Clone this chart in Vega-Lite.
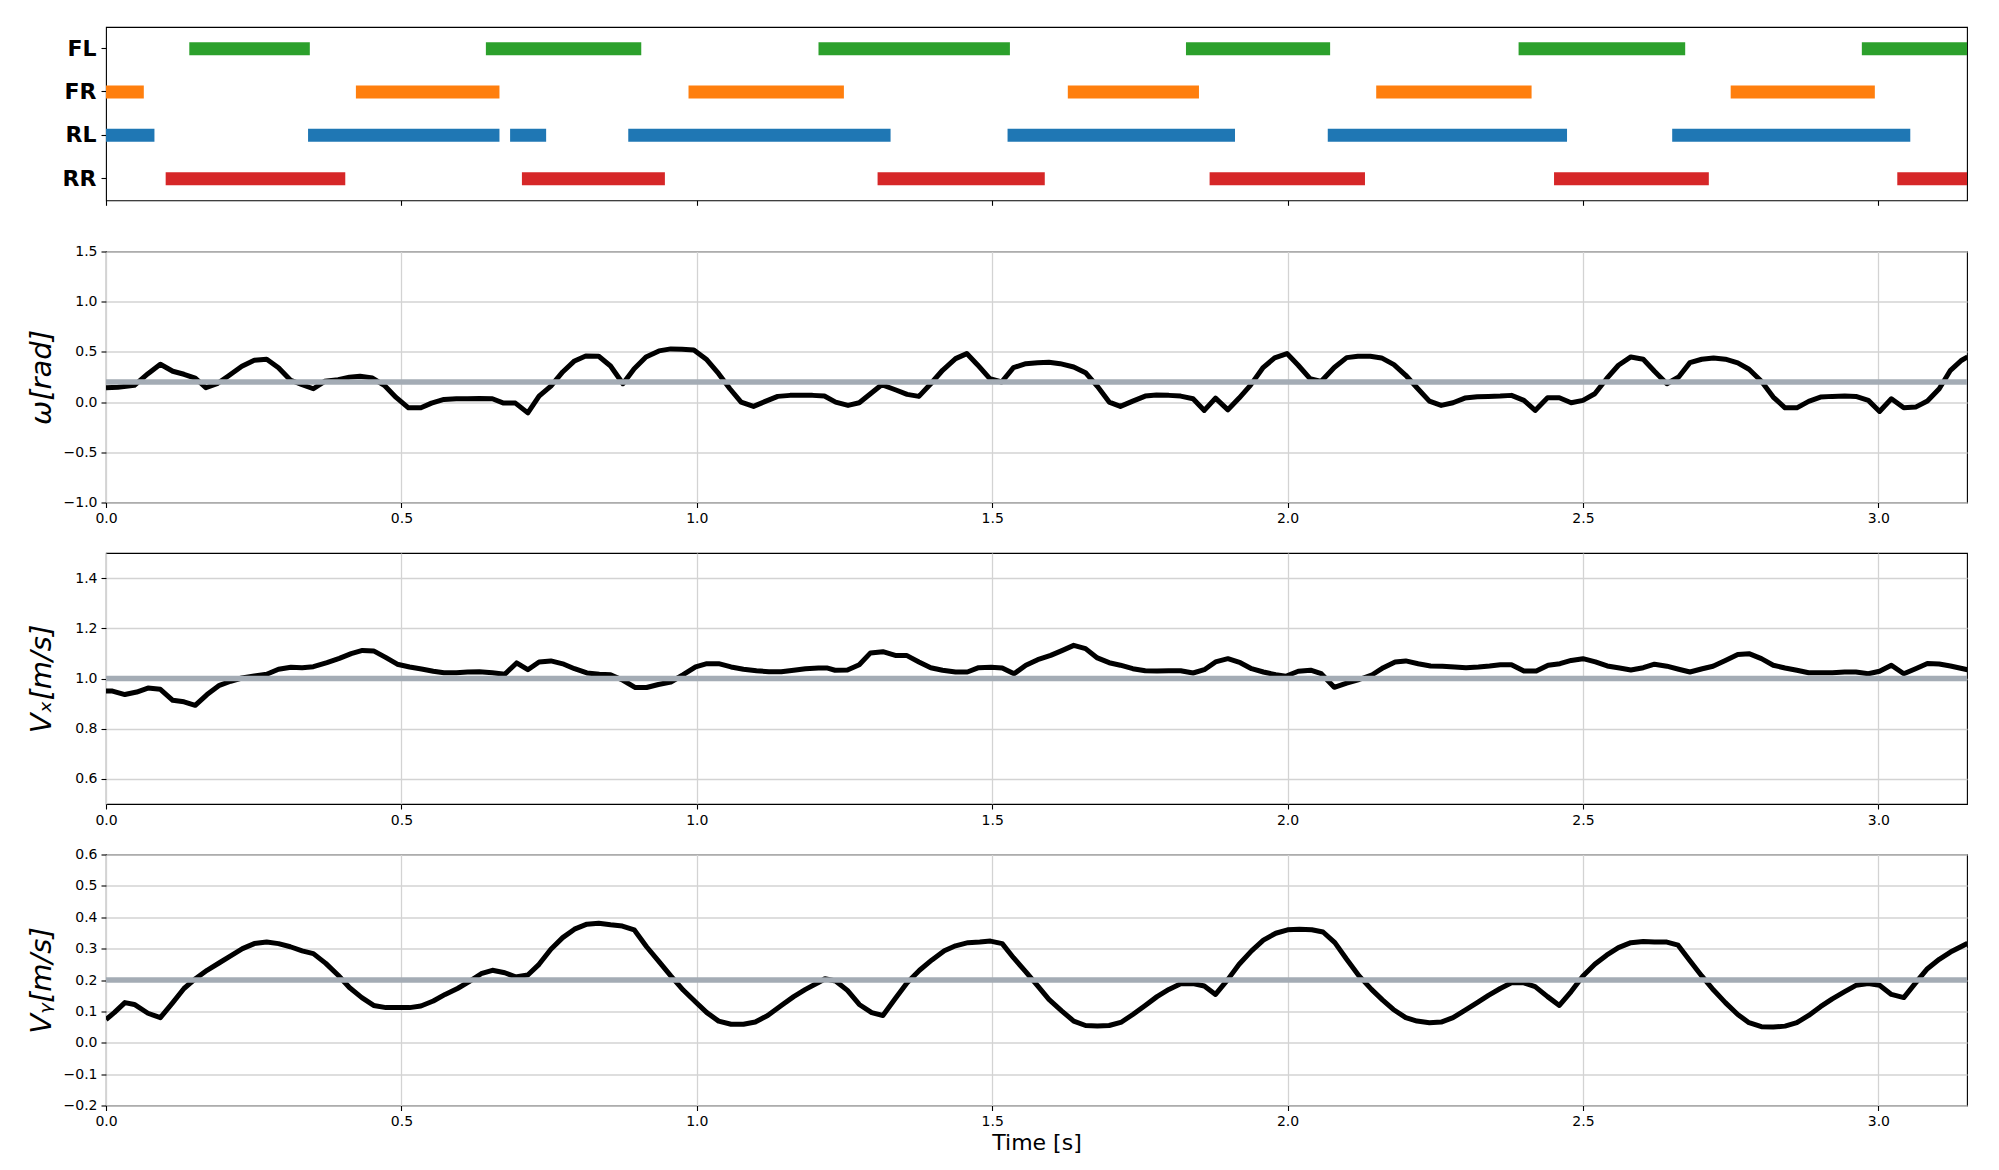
{
"$schema": "https://vega.github.io/schema/vega-lite/v6.json",
"background": "white",
"padding": {"left": 26, "top": 26, "right": 10, "bottom": 10},
"spacing": 50.5,
"bounds": "flush",
"config": {
  "view": {"stroke": "black", "strokeWidth": 1.1},
  "axis": {"domain": false, "tickColor": "black", "tickSize": 5, "tickWidth": 1.1, "labelFont": "DejaVu Sans", "labelFontSize": 14, "labelColor": "black", "titleFont": "DejaVu Sans", "titleColor": "black", "titleFontWeight": "normal", "gridColor": "#d3d3d3", "gridWidth": 1.3, "labelPadding": 4, "labelFlush": false, "labelOverlap": false}
},
"datasets": {
"gait": [
{"leg":"FL","start":0.141,"end":0.345},{"leg":"FL","start":0.643,"end":0.906},{"leg":"FL","start":1.206,"end":1.530},{"leg":"FL","start":1.828,"end":2.072},{"leg":"FL","start":2.391,"end":2.673},{"leg":"FL","start":2.972,"end":3.15},
{"leg":"FR","start":0.0,"end":0.064},{"leg":"FR","start":0.423,"end":0.666},{"leg":"FR","start":0.986,"end":1.249},{"leg":"FR","start":1.628,"end":1.850},{"leg":"FR","start":2.150,"end":2.413},{"leg":"FR","start":2.750,"end":2.994},
{"leg":"RL","start":0.0,"end":0.082},{"leg":"RL","start":0.342,"end":0.666},{"leg":"RL","start":0.684,"end":0.745},{"leg":"RL","start":0.884,"end":1.328},{"leg":"RL","start":1.526,"end":1.911},{"leg":"RL","start":2.068,"end":2.473},{"leg":"RL","start":2.651,"end":3.054},
{"leg":"RR","start":0.101,"end":0.405},{"leg":"RR","start":0.704,"end":0.946},{"leg":"RR","start":1.306,"end":1.589},{"leg":"RR","start":1.868,"end":2.131},{"leg":"RR","start":2.451,"end":2.713},{"leg":"RR","start":3.032,"end":3.15}
],
"omegaRef": [{"t":0,"v":0.2},{"t":3.15,"v":0.2}],
"vxRef": [{"t":0,"v":1.0},{"t":3.15,"v":1.0}],
"vyRef": [{"t":0,"v":0.2},{"t":3.15,"v":0.2}],
"omega": [
{"t":0.000,"v":0.143},{"t":0.020,"v":0.147},{"t":0.048,"v":0.167},{"t":0.071,"v":0.283},{"t":0.092,"v":0.377},{"t":0.113,"v":0.307},{"t":0.132,"v":0.277},{"t":0.151,"v":0.240},{"t":0.169,"v":0.143},{"t":0.188,"v":0.183},{"t":0.207,"v":0.260},{"t":0.230,"v":0.357},{"t":0.251,"v":0.417},{"t":0.272,"v":0.427},{"t":0.292,"v":0.343},{"t":0.312,"v":0.220},{"t":0.332,"v":0.173},{"t":0.351,"v":0.133},{"t":0.370,"v":0.207},{"t":0.393,"v":0.223},{"t":0.412,"v":0.247},{"t":0.430,"v":0.257},{"t":0.451,"v":0.240},{"t":0.471,"v":0.167},{"t":0.491,"v":0.047},{"t":0.512,"v":-0.057},{"t":0.533,"v":-0.057},{"t":0.551,"v":-0.010},{"t":0.572,"v":0.027},{"t":0.593,"v":0.033},{"t":0.612,"v":0.033},{"t":0.632,"v":0.037},{"t":0.654,"v":0.033},{"t":0.673,"v":-0.010},{"t":0.693,"v":-0.010},{"t":0.714,"v":-0.107},{"t":0.733,"v":0.060},{"t":0.753,"v":0.160},{"t":0.773,"v":0.300},{"t":0.793,"v":0.410},{"t":0.812,"v":0.460},{"t":0.834,"v":0.457},{"t":0.854,"v":0.360},{"t":0.875,"v":0.183},{"t":0.894,"v":0.333},{"t":0.914,"v":0.450},{"t":0.936,"v":0.510},{"t":0.956,"v":0.530},{"t":0.975,"v":0.527},{"t":0.995,"v":0.520},{"t":1.016,"v":0.427},{"t":1.037,"v":0.283},{"t":1.056,"v":0.133},{"t":1.075,"v":0.000},{"t":1.096,"v":-0.043},{"t":1.116,"v":0.007},{"t":1.137,"v":0.057},{"t":1.158,"v":0.067},{"t":1.177,"v":0.067},{"t":1.196,"v":0.067},{"t":1.216,"v":0.060},{"t":1.235,"v":0.000},{"t":1.256,"v":-0.033},{"t":1.275,"v":-0.007},{"t":1.294,"v":0.083},{"t":1.313,"v":0.173},{"t":1.336,"v":0.123},{"t":1.356,"v":0.077},{"t":1.376,"v":0.057},{"t":1.396,"v":0.183},{"t":1.416,"v":0.317},{"t":1.438,"v":0.433},{"t":1.457,"v":0.483},{"t":1.475,"v":0.373},{"t":1.496,"v":0.233},{"t":1.516,"v":0.200},{"t":1.536,"v":0.343},{"t":1.557,"v":0.383},{"t":1.577,"v":0.393},{"t":1.596,"v":0.397},{"t":1.615,"v":0.383},{"t":1.638,"v":0.350},{"t":1.658,"v":0.293},{"t":1.678,"v":0.157},{"t":1.698,"v":0.000},{"t":1.717,"v":-0.043},{"t":1.738,"v":0.010},{"t":1.759,"v":0.060},{"t":1.778,"v":0.070},{"t":1.799,"v":0.067},{"t":1.819,"v":0.060},{"t":1.840,"v":0.033},{"t":1.859,"v":-0.083},{"t":1.878,"v":0.040},{"t":1.899,"v":-0.077},{"t":1.918,"v":0.040},{"t":1.937,"v":0.167},{"t":1.958,"v":0.340},{"t":1.978,"v":0.440},{"t":1.999,"v":0.483},{"t":2.018,"v":0.367},{"t":2.038,"v":0.233},{"t":2.057,"v":0.207},{"t":2.079,"v":0.345},{"t":2.100,"v":0.443},{"t":2.119,"v":0.457},{"t":2.140,"v":0.457},{"t":2.159,"v":0.440},{"t":2.180,"v":0.373},{"t":2.200,"v":0.267},{"t":2.219,"v":0.143},{"t":2.240,"v":0.010},{"t":2.260,"v":-0.033},{"t":2.280,"v":-0.007},{"t":2.300,"v":0.040},{"t":2.321,"v":0.053},{"t":2.340,"v":0.057},{"t":2.360,"v":0.060},{"t":2.379,"v":0.067},{"t":2.400,"v":0.017},{"t":2.419,"v":-0.083},{"t":2.440,"v":0.043},{"t":2.460,"v":0.043},{"t":2.480,"v":-0.007},{"t":2.500,"v":0.017},{"t":2.520,"v":0.083},{"t":2.540,"v":0.233},{"t":2.560,"v":0.367},{"t":2.581,"v":0.450},{"t":2.602,"v":0.427},{"t":2.621,"v":0.307},{"t":2.642,"v":0.183},{"t":2.662,"v":0.250},{"t":2.681,"v":0.393},{"t":2.701,"v":0.427},{"t":2.721,"v":0.440},{"t":2.741,"v":0.427},{"t":2.762,"v":0.390},{"t":2.781,"v":0.327},{"t":2.802,"v":0.207},{"t":2.822,"v":0.050},{"t":2.842,"v":-0.057},{"t":2.862,"v":-0.057},{"t":2.882,"v":0.007},{"t":2.902,"v":0.050},{"t":2.922,"v":0.057},{"t":2.943,"v":0.060},{"t":2.962,"v":0.057},{"t":2.983,"v":0.017},{"t":3.002,"v":-0.093},{"t":3.022,"v":0.033},{"t":3.043,"v":-0.057},{"t":3.063,"v":-0.050},{"t":3.083,"v":0.010},{"t":3.103,"v":0.133},{"t":3.122,"v":0.317},{"t":3.141,"v":0.417},{"t":3.151,"v":0.450}
],
"vx": [
{"t":0.000,"v":0.950},{"t":0.011,"v":0.950},{"t":0.032,"v":0.936},{"t":0.052,"v":0.946},{"t":0.071,"v":0.962},{"t":0.092,"v":0.957},{"t":0.113,"v":0.913},{"t":0.132,"v":0.907},{"t":0.151,"v":0.893},{"t":0.171,"v":0.936},{"t":0.192,"v":0.973},{"t":0.211,"v":0.989},{"t":0.230,"v":1.002},{"t":0.251,"v":1.010},{"t":0.272,"v":1.017},{"t":0.292,"v":1.037},{"t":0.313,"v":1.045},{"t":0.332,"v":1.043},{"t":0.351,"v":1.047},{"t":0.374,"v":1.063},{"t":0.395,"v":1.080},{"t":0.415,"v":1.099},{"t":0.434,"v":1.112},{"t":0.453,"v":1.110},{"t":0.474,"v":1.083},{"t":0.493,"v":1.057},{"t":0.514,"v":1.046},{"t":0.534,"v":1.038},{"t":0.554,"v":1.029},{"t":0.572,"v":1.023},{"t":0.593,"v":1.023},{"t":0.612,"v":1.026},{"t":0.632,"v":1.027},{"t":0.654,"v":1.023},{"t":0.675,"v":1.017},{"t":0.695,"v":1.062},{"t":0.714,"v":1.035},{"t":0.733,"v":1.066},{"t":0.753,"v":1.070},{"t":0.775,"v":1.057},{"t":0.793,"v":1.039},{"t":0.814,"v":1.022},{"t":0.835,"v":1.017},{"t":0.854,"v":1.015},{"t":0.875,"v":0.993},{"t":0.896,"v":0.964},{"t":0.915,"v":0.964},{"t":0.935,"v":0.976},{"t":0.956,"v":0.986},{"t":0.977,"v":1.015},{"t":0.998,"v":1.046},{"t":1.017,"v":1.059},{"t":1.037,"v":1.059},{"t":1.058,"v":1.046},{"t":1.079,"v":1.037},{"t":1.101,"v":1.031},{"t":1.122,"v":1.027},{"t":1.143,"v":1.027},{"t":1.164,"v":1.033},{"t":1.184,"v":1.039},{"t":1.206,"v":1.042},{"t":1.220,"v":1.042},{"t":1.234,"v":1.033},{"t":1.255,"v":1.034},{"t":1.275,"v":1.055},{"t":1.294,"v":1.102},{"t":1.315,"v":1.107},{"t":1.336,"v":1.092},{"t":1.355,"v":1.092},{"t":1.376,"v":1.066},{"t":1.396,"v":1.043},{"t":1.416,"v":1.033},{"t":1.438,"v":1.026},{"t":1.458,"v":1.026},{"t":1.477,"v":1.043},{"t":1.498,"v":1.045},{"t":1.517,"v":1.042},{"t":1.537,"v":1.019},{"t":1.557,"v":1.053},{"t":1.577,"v":1.075},{"t":1.599,"v":1.092},{"t":1.618,"v":1.111},{"t":1.638,"v":1.132},{"t":1.658,"v":1.119},{"t":1.678,"v":1.082},{"t":1.698,"v":1.063},{"t":1.717,"v":1.053},{"t":1.738,"v":1.039},{"t":1.759,"v":1.031},{"t":1.779,"v":1.030},{"t":1.799,"v":1.031},{"t":1.819,"v":1.031},{"t":1.840,"v":1.022},{"t":1.859,"v":1.035},{"t":1.878,"v":1.066},{"t":1.899,"v":1.079},{"t":1.920,"v":1.063},{"t":1.939,"v":1.039},{"t":1.959,"v":1.026},{"t":1.980,"v":1.015},{"t":1.997,"v":1.009},{"t":2.018,"v":1.029},{"t":2.039,"v":1.033},{"t":2.057,"v":1.019},{"t":2.079,"v":0.965},{"t":2.100,"v":0.982},{"t":2.121,"v":0.996},{"t":2.142,"v":1.013},{"t":2.162,"v":1.043},{"t":2.182,"v":1.066},{"t":2.200,"v":1.070},{"t":2.221,"v":1.059},{"t":2.242,"v":1.050},{"t":2.262,"v":1.049},{"t":2.283,"v":1.046},{"t":2.302,"v":1.043},{"t":2.323,"v":1.046},{"t":2.342,"v":1.050},{"t":2.360,"v":1.055},{"t":2.379,"v":1.055},{"t":2.400,"v":1.030},{"t":2.421,"v":1.030},{"t":2.441,"v":1.053},{"t":2.461,"v":1.059},{"t":2.480,"v":1.072},{"t":2.500,"v":1.079},{"t":2.521,"v":1.066},{"t":2.541,"v":1.050},{"t":2.562,"v":1.042},{"t":2.581,"v":1.034},{"t":2.602,"v":1.043},{"t":2.621,"v":1.057},{"t":2.642,"v":1.049},{"t":2.662,"v":1.037},{"t":2.681,"v":1.026},{"t":2.702,"v":1.039},{"t":2.720,"v":1.049},{"t":2.741,"v":1.072},{"t":2.762,"v":1.096},{"t":2.781,"v":1.099},{"t":2.802,"v":1.079},{"t":2.822,"v":1.053},{"t":2.842,"v":1.042},{"t":2.862,"v":1.033},{"t":2.882,"v":1.023},{"t":2.902,"v":1.023},{"t":2.922,"v":1.023},{"t":2.943,"v":1.026},{"t":2.962,"v":1.026},{"t":2.983,"v":1.019},{"t":3.002,"v":1.029},{"t":3.022,"v":1.053},{"t":3.043,"v":1.019},{"t":3.063,"v":1.039},{"t":3.083,"v":1.060},{"t":3.103,"v":1.058},{"t":3.122,"v":1.050},{"t":3.151,"v":1.035}
],
"vy": [
{"t":0.000,"v":0.074},{"t":0.014,"v":0.096},{"t":0.032,"v":0.128},{"t":0.048,"v":0.122},{"t":0.071,"v":0.094},{"t":0.092,"v":0.080},{"t":0.113,"v":0.128},{"t":0.132,"v":0.173},{"t":0.152,"v":0.205},{"t":0.171,"v":0.231},{"t":0.192,"v":0.255},{"t":0.211,"v":0.277},{"t":0.231,"v":0.300},{"t":0.251,"v":0.316},{"t":0.272,"v":0.321},{"t":0.292,"v":0.316},{"t":0.312,"v":0.306},{"t":0.332,"v":0.293},{"t":0.351,"v":0.284},{"t":0.372,"v":0.253},{"t":0.393,"v":0.215},{"t":0.412,"v":0.176},{"t":0.433,"v":0.144},{"t":0.453,"v":0.119},{"t":0.474,"v":0.112},{"t":0.493,"v":0.112},{"t":0.514,"v":0.112},{"t":0.533,"v":0.117},{"t":0.554,"v":0.133},{"t":0.574,"v":0.154},{"t":0.595,"v":0.173},{"t":0.614,"v":0.194},{"t":0.635,"v":0.220},{"t":0.654,"v":0.231},{"t":0.675,"v":0.223},{"t":0.693,"v":0.210},{"t":0.714,"v":0.216},{"t":0.733,"v":0.250},{"t":0.753,"v":0.298},{"t":0.773,"v":0.335},{"t":0.793,"v":0.362},{"t":0.814,"v":0.378},{"t":0.834,"v":0.381},{"t":0.854,"v":0.376},{"t":0.874,"v":0.372},{"t":0.894,"v":0.360},{"t":0.915,"v":0.306},{"t":0.935,"v":0.261},{"t":0.956,"v":0.213},{"t":0.977,"v":0.168},{"t":0.998,"v":0.130},{"t":1.017,"v":0.096},{"t":1.037,"v":0.069},{"t":1.058,"v":0.059},{"t":1.079,"v":0.059},{"t":1.099,"v":0.066},{"t":1.120,"v":0.087},{"t":1.143,"v":0.119},{"t":1.164,"v":0.147},{"t":1.184,"v":0.170},{"t":1.205,"v":0.191},{"t":1.217,"v":0.204},{"t":1.235,"v":0.197},{"t":1.255,"v":0.167},{"t":1.275,"v":0.122},{"t":1.296,"v":0.096},{"t":1.315,"v":0.087},{"t":1.336,"v":0.141},{"t":1.356,"v":0.191},{"t":1.377,"v":0.231},{"t":1.398,"v":0.264},{"t":1.419,"v":0.293},{"t":1.438,"v":0.309},{"t":1.459,"v":0.319},{"t":1.479,"v":0.321},{"t":1.497,"v":0.324},{"t":1.517,"v":0.316},{"t":1.536,"v":0.271},{"t":1.557,"v":0.226},{"t":1.577,"v":0.181},{"t":1.596,"v":0.138},{"t":1.618,"v":0.101},{"t":1.638,"v":0.069},{"t":1.658,"v":0.055},{"t":1.678,"v":0.053},{"t":1.698,"v":0.055},{"t":1.719,"v":0.066},{"t":1.738,"v":0.090},{"t":1.759,"v":0.119},{"t":1.779,"v":0.147},{"t":1.799,"v":0.170},{"t":1.819,"v":0.188},{"t":1.840,"v":0.189},{"t":1.859,"v":0.181},{"t":1.878,"v":0.154},{"t":1.899,"v":0.202},{"t":1.918,"v":0.250},{"t":1.939,"v":0.293},{"t":1.959,"v":0.327},{"t":1.980,"v":0.349},{"t":2.000,"v":0.360},{"t":2.020,"v":0.362},{"t":2.041,"v":0.360},{"t":2.060,"v":0.353},{"t":2.080,"v":0.319},{"t":2.100,"v":0.266},{"t":2.121,"v":0.213},{"t":2.142,"v":0.170},{"t":2.161,"v":0.136},{"t":2.179,"v":0.106},{"t":2.200,"v":0.080},{"t":2.219,"v":0.069},{"t":2.240,"v":0.064},{"t":2.260,"v":0.066},{"t":2.280,"v":0.080},{"t":2.300,"v":0.103},{"t":2.321,"v":0.128},{"t":2.340,"v":0.151},{"t":2.360,"v":0.173},{"t":2.379,"v":0.191},{"t":2.400,"v":0.191},{"t":2.419,"v":0.179},{"t":2.440,"v":0.147},{"t":2.460,"v":0.119},{"t":2.480,"v":0.163},{"t":2.500,"v":0.213},{"t":2.520,"v":0.250},{"t":2.540,"v":0.279},{"t":2.560,"v":0.303},{"t":2.581,"v":0.319},{"t":2.602,"v":0.323},{"t":2.621,"v":0.321},{"t":2.642,"v":0.321},{"t":2.661,"v":0.311},{"t":2.681,"v":0.261},{"t":2.701,"v":0.213},{"t":2.721,"v":0.168},{"t":2.741,"v":0.128},{"t":2.762,"v":0.090},{"t":2.781,"v":0.064},{"t":2.802,"v":0.051},{"t":2.822,"v":0.050},{"t":2.842,"v":0.053},{"t":2.862,"v":0.064},{"t":2.882,"v":0.087},{"t":2.902,"v":0.115},{"t":2.922,"v":0.140},{"t":2.943,"v":0.163},{"t":2.962,"v":0.183},{"t":2.983,"v":0.189},{"t":3.002,"v":0.183},{"t":3.022,"v":0.154},{"t":3.043,"v":0.144},{"t":3.063,"v":0.191},{"t":3.083,"v":0.236},{"t":3.103,"v":0.266},{"t":3.122,"v":0.289},{"t":3.151,"v":0.317}
]
},
"vconcat": [
{
  "width": 1861, "height": 173.3,
  "data": {"name": "gait"},
  "mark": {"type": "bar", "clip": true},
  "encoding": {
    "x": {"field": "start", "type": "quantitative", "scale": {"domain": [0, 3.15], "nice": false, "zero": false}, "axis": {"values": [0, 0.5, 1, 1.5, 2, 2.5, 3], "labels": false, "grid": false, "title": null}},
    "x2": {"field": "end"},
    "y": {"field": "leg", "type": "nominal", "sort": ["FL", "FR", "RL", "RR"], "scale": {"paddingInner": 0.7, "paddingOuter": 0.35}, "axis": {"title": null, "labelFontSize": 22, "labelFontWeight": "bold", "grid": false, "labelPadding": 5}},
    "color": {"field": "leg", "type": "nominal", "scale": {"domain": ["FL", "FR", "RL", "RR"], "range": ["#2ca02c", "#ff7f0e", "#1f77b4", "#d62728"]}, "legend": null}
  }
},
{
  "width": 1861, "height": 251,
  "encoding": {
    "x": {"field": "t", "type": "quantitative", "scale": {"domain": [0, 3.15], "nice": false, "zero": false}, "axis": {"values": [0, 0.5, 1, 1.5, 2, 2.5, 3], "format": ".1f", "title": null}},
    "y": {"field": "v", "type": "quantitative", "scale": {"domain": [-1, 1.5], "nice": false, "zero": false}, "axis": {"values": [-1, -0.5, 0, 0.5, 1, 1.5], "format": ".1f", "title": "ω[rad]", "titleFontSize": 29, "titleFontStyle": "italic", "titleX": -65, "titleBaseline": "middle"}}
  },
  "layer": [
    {"data": {"name": "omega"}, "mark": {"type": "line", "color": "black", "strokeWidth": 5, "strokeJoin": "round", "clip": true}},
    {"data": {"name": "omegaRef"}, "mark": {"type": "line", "color": "#a4acb5", "strokeWidth": 5.5, "clip": true}}
  ]
},
{
  "width": 1861, "height": 251,
  "encoding": {
    "x": {"field": "t", "type": "quantitative", "scale": {"domain": [0, 3.15], "nice": false, "zero": false}, "axis": {"values": [0, 0.5, 1, 1.5, 2, 2.5, 3], "format": ".1f", "title": null}},
    "y": {"field": "v", "type": "quantitative", "scale": {"domain": [0.5, 1.5], "nice": false, "zero": false}, "axis": {"values": [0.6, 0.8, 1.0, 1.2, 1.4], "format": ".1f", "title": "Vₓ[m/s]", "titleFontSize": 29, "titleFontStyle": "italic", "titleX": -65, "titleBaseline": "middle"}}
  },
  "layer": [
    {"data": {"name": "vx"}, "mark": {"type": "line", "color": "black", "strokeWidth": 5, "strokeJoin": "round", "clip": true}},
    {"data": {"name": "vxRef"}, "mark": {"type": "line", "color": "#a4acb5", "strokeWidth": 5.5, "clip": true}}
  ]
},
{
  "width": 1861, "height": 251,
  "encoding": {
    "x": {"field": "t", "type": "quantitative", "scale": {"domain": [0, 3.15], "nice": false, "zero": false}, "axis": {"values": [0, 0.5, 1, 1.5, 2, 2.5, 3], "format": ".1f", "title": "Time [s]", "titleFontSize": 22, "titlePadding": 4}},
    "y": {"field": "v", "type": "quantitative", "scale": {"domain": [-0.2, 0.6], "nice": false, "zero": false}, "axis": {"values": [-0.2, -0.1, 0, 0.1, 0.2, 0.3, 0.4, 0.5, 0.6], "format": ".1f", "title": "Vᵧ[m/s]", "titleFontSize": 29, "titleFontStyle": "italic", "titleX": -65, "titleBaseline": "middle"}}
  },
  "layer": [
    {"data": {"name": "vy"}, "mark": {"type": "line", "color": "black", "strokeWidth": 5, "strokeJoin": "round", "clip": true}},
    {"data": {"name": "vyRef"}, "mark": {"type": "line", "color": "#a4acb5", "strokeWidth": 5.5, "clip": true}}
  ]
}
]
}
